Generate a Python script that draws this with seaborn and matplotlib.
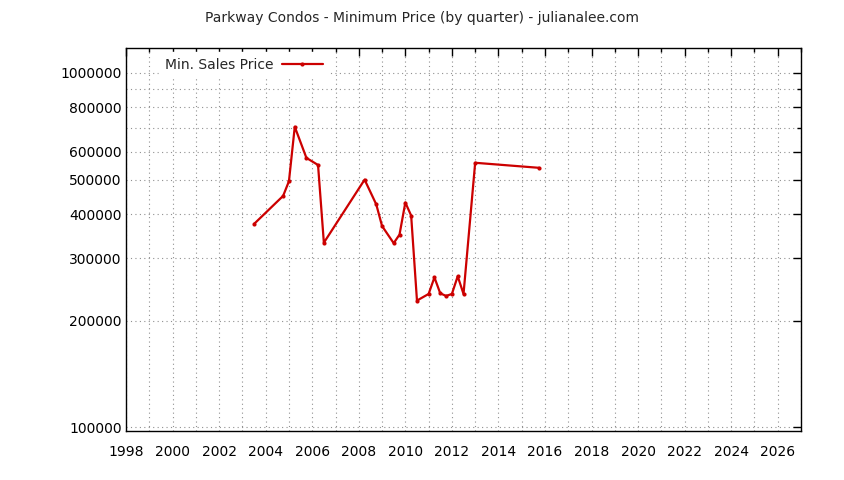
#!/usr/bin/env python3
"""Parkway Condos minimum sales price by quarter, gnuplot-like log chart."""
import matplotlib
matplotlib.use('Agg')
import matplotlib.pyplot as plt
import matplotlib.ticker as mticker
import pandas as pd
import seaborn as sns

# quarter (decimal year) and minimum sales price
quarters = [2003.50, 2004.75, 2005.00, 2005.25, 2005.75, 2006.25, 2006.50,
            2008.25, 2008.75, 2009.00, 2009.50, 2009.75, 2010.00, 2010.25,
            2010.50, 2011.00, 2011.25, 2011.50, 2011.75, 2012.00, 2012.25,
            2012.50, 2013.00, 2015.75]
min_price = [375000, 450000, 495000, 705000, 576000, 550000, 332000,
             500000, 426000, 370000, 331000, 350000, 431000, 396000,
             228000, 238000, 265000, 239000, 235000, 238000, 267000,
             238000, 558000, 540000]

year_ticks = list(range(1998, 2027, 2))
price_major = [100000, 200000, 300000, 400000, 500000, 600000, 800000, 1000000]
price_minor = [700000, 900000]

df = pd.DataFrame({'quarter': quarters, 'price': min_price})

sns.set_theme(style='white')
plt.rcParams['font.family'] = ['DejaVu Sans']

fig = plt.figure(figsize=(8.44, 4.8), dpi=100)
ax = fig.add_axes([0.1493, 0.102, 0.7998, 0.798])

sns.lineplot(data=df, x='quarter', y='price', ax=ax, color='#cc0000',
             linewidth=1.6, marker='o', markersize=3, markeredgewidth=0,
             label='Min. Sales Price')

ax.set_yscale('log')
ax.set_xlim(1998, 2027)
ax.set_ylim(97700, 1176000)

ax.xaxis.set_major_locator(mticker.FixedLocator(year_ticks))
ax.xaxis.set_minor_locator(mticker.MultipleLocator(1))
ax.yaxis.set_major_locator(mticker.FixedLocator(price_major))
ax.yaxis.set_minor_locator(mticker.FixedLocator(price_minor))
ax.yaxis.set_major_formatter(mticker.FuncFormatter(lambda v, p: f'{int(round(v))}'))
ax.yaxis.set_minor_formatter(mticker.NullFormatter())

ax.tick_params(which='both', direction='in', top=True, right=True,
               colors='black', labelsize=10)
ax.tick_params(which='major', length=6, width=1)
ax.tick_params(which='minor', length=3, width=1)
ax.tick_params(axis='x', pad=10)
ax.tick_params(axis='y', pad=3)

ax.grid(True, which='both', linestyle=(0, (1, 3)), color='#909090', linewidth=0.8)
for s in ax.spines.values():
    s.set_color('black')
    s.set_linewidth(1)

ax.set_xlabel('')
ax.set_ylabel('')

fig.suptitle('Parkway Condos - Minimum Price (by quarter) - julianalee.com',
             y=0.9625, va='center', fontsize=10)

leg = ax.legend(loc='upper left', bbox_to_anchor=(0.043, 1.0), frameon=True,
                markerfirst=False, fontsize=10, handlelength=3.0,
                borderaxespad=0.3, handletextpad=0.6)
leg.get_frame().set_edgecolor('white')
leg.get_frame().set_facecolor('white')
leg.get_frame().set_alpha(1)
leg.get_frame().set_boxstyle('square', pad=0)

fig.savefig('out.png', dpi=100)
